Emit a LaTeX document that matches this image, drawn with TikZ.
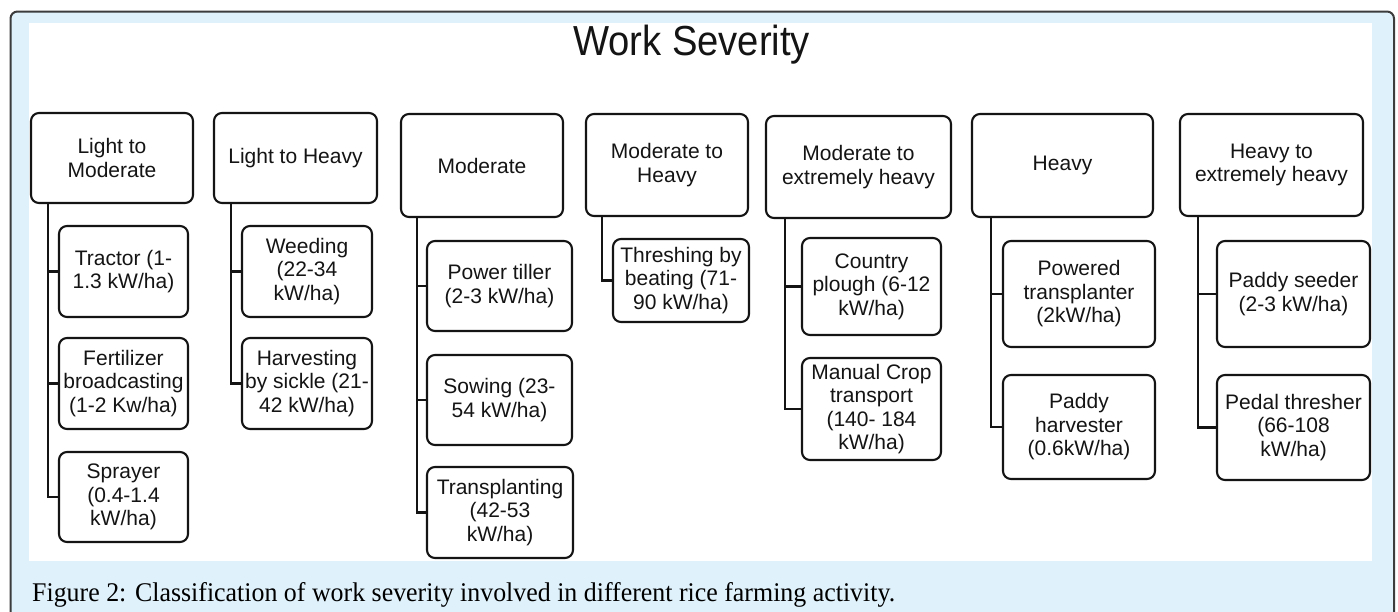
\documentclass[tikz,border=0pt]{standalone}
\usepackage{fontspec}
\setmainfont{Liberation Sans}
\newfontfamily\capfont{Liberation Serif}
\usepackage{graphicx}
\definecolor{panelblue}{RGB}{223,241,251}
\definecolor{framegray}{RGB}{60,60,60}
\definecolor{inkgray}{RGB}{20,20,20}
\tikzset{
  box/.style={draw=inkgray, line width=2.1pt, rounded corners=8pt, fill=white,
    align=center, inner sep=0pt, text=inkgray,
    font=\fontsize{21}{23.5}\selectfont},
  conn/.style={draw=inkgray, line width=2.4pt},
}
% box from corner (x1,y1) to (x2,y2): name, x1, y1, x2, y2, text
\newcommand\BX[6]{%
  \node[box, minimum width={(#4-#2)*1pt}, minimum height={(#5-#3)*1pt}]
    (#1) at ({(#2+#4)/2},{(#3+#5)/2}) {#6};}
\begin{document}
\begin{tikzpicture}[x=1pt,y=-1pt]
\useasboundingbox (0,0) rectangle (1398,611);
% framed panel
\begin{scope}
  \clip (0,0) rectangle (1398,611);
  \draw[fill=panelblue, draw=framegray, line width=2pt, rounded corners=7pt]
    (10.5,11.5) rectangle (1394,650);
\end{scope}
\fill[white] (29,23) rectangle (1372,561);

% title
\node[anchor=base, inner sep=0pt, font=\fontsize{42}{42}\selectfont, text=inkgray]
  (title) at (691.5,55) {\resizebox{237pt}{\height}{Work Severity}};

% trunk lines
\coordinate (L1) at (48,0);
\coordinate (L2) at (231,0);
\coordinate (L3) at (417,0);
\coordinate (L4) at (602,0);
\coordinate (L5) at (785,0);
\coordinate (L6) at (991,0);
\coordinate (L7) at (1198,0);

% severity classes
\BX{T1}{31}{113}{193}{203}{Light to\\Moderate}
\BX{T2}{214}{113}{377}{203}{Light to Heavy}
\BX{T3}{401}{114}{563}{217}{Moderate}
\BX{T4}{586}{114}{748}{216}{Moderate to\\Heavy}
\BX{T5}{766}{116}{951}{218}{Moderate to\\extremely heavy}
\BX{T6}{972}{114}{1153}{217}{Heavy}
\BX{T7}{1180}{114}{1363}{216}{Heavy to\\extremely heavy}

% activities
\BX{C11}{59}{226}{188}{317}{Tractor (1-\\1.3 kW/ha)}
\BX{C12}{59}{338}{188}{429}{Fertilizer\\broadcasting\\(1-2 Kw/ha)}
\BX{C13}{59}{452}{188}{542}{Sprayer\\(0.4-1.4\\kW/ha)}
\BX{C21}{242}{226}{372}{317}{Weeding\\(22-34\\kW/ha)}
\BX{C22}{242}{338}{372}{429}{Harvesting\\by sickle (21-\\42 kW/ha)}
\BX{C31}{427}{241}{572}{331}{Power tiller\\(2-3 kW/ha)}
\BX{C32}{427}{355}{572}{445}{Sowing (23-\\54 kW/ha)}
\BX{C33}{427}{467}{573}{558}{Transplanting\\(42-53\\kW/ha)}
\BX{C41}{613}{239}{749}{322}{Threshing by\\beating (71-\\90 kW/ha)}
\BX{C51}{802}{238}{941}{335}{Country\\plough (6-12\\kW/ha)}
\BX{C52}{802}{358}{941}{460}{Manual Crop\\transport\\(140- 184\\kW/ha)}
\BX{C61}{1003}{241}{1155}{347}{Powered\\transplanter\\(2kW/ha)}
\BX{C62}{1003}{375}{1155}{479}{Paddy\\harvester\\(0.6kW/ha)}
\BX{C71}{1217}{241}{1370}{347}{Paddy seeder\\(2-3 kW/ha)}
\BX{C72}{1217}{375}{1370}{480}{Pedal thresher\\(66-108\\kW/ha)}

% connectors: trunk down from each class, branches to its activities
\draw[conn] (T1.south -| L1) |- (C13.west);
\draw[conn] (C11.west -| L1) -- (C11.west);
\draw[conn] (C12.west -| L1) -- (C12.west);

\draw[conn] (T2.south -| L2) |- (C22.west);
\draw[conn] (C21.west -| L2) -- (C21.west);

\draw[conn] (T3.south -| L3) |- (C33.west);
\draw[conn] (C31.west -| L3) -- (C31.west);
\draw[conn] (C32.west -| L3) -- (C32.west);

\draw[conn] (T4.south -| L4) |- (C41.west);

\draw[conn] (T5.south -| L5) |- (C52.west);
\draw[conn] (C51.west -| L5) -- (C51.west);

\draw[conn] (T6.south -| L6) |- (C62.west);
\draw[conn] (C61.west -| L6) -- (C61.west);

\draw[conn] (T7.south -| L7) |- (C72.west);
\draw[conn] (C71.west -| L7) -- (C71.west);

% caption
\node[anchor=base west, inner sep=0pt] (caption) at (32,601)
  {\resizebox{863pt}{\height}{\capfont\fontsize{27}{27}\selectfont
   Figure 2: Classification of work severity involved in different rice farming activity.}};
\end{tikzpicture}
\end{document}
